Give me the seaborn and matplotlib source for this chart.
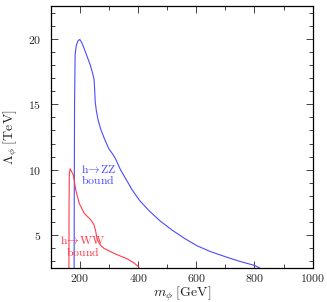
import numpy as np
import pandas as pd
import matplotlib
matplotlib.use('Agg')
import matplotlib.pyplot as plt
from matplotlib.ticker import MultipleLocator, FuncFormatter
import seaborn as sns

# h->ZZ bound (blue)
zz_mass = [179.5, 180.0, 181.0, 183.0, 187.0, 193.0, 199.0, 206.0, 215.0, 225.0, 235.0, 244.0, 248.0,
           250.0, 252.0, 256.0, 262.0, 271.0, 285.0, 299.0, 312.0, 322.0, 339.0, 360.0, 379.0,
           405.0, 436.0, 475.0, 516.0, 560.0, 602.0, 649.0, 700.0, 750.0, 800.0, 818.0]
zz_lam = [2.5, 8.0, 15.0, 18.8, 19.5, 19.85, 19.95, 19.7, 19.2, 18.6, 18.0, 17.3, 16.9,
          16.2, 15.2, 14.5, 13.8, 13.1, 12.3, 11.6, 11.2, 10.84, 10.0, 9.2, 8.47,
          7.65, 6.9, 6.1, 5.4, 4.75, 4.2, 3.75, 3.36, 3.0, 2.7, 2.5]

# h->WW bound (red)
ww_mass = [161.7, 162.0, 163.0, 166.0, 171.0, 177.0, 185.0, 197.0, 214.0, 237.0, 248.0,
           254.0, 259.0, 270.0, 282.0, 300.0, 317.0, 340.0, 362.0, 385.0, 403.0]
ww_lam = [2.5, 7.0, 9.7, 10.08, 9.85, 9.6, 8.47, 7.44, 6.68, 6.17, 5.79,
          5.28, 4.64, 4.25, 4.0, 3.8, 3.62, 3.4, 3.2, 2.9, 2.55]

blue = '#4b4bff'
red = '#ff3b4b'

sns.set_theme(style='ticks')
plt.rcParams['font.family'] = ['DejaVu Serif']
plt.rcParams['mathtext.fontset'] = 'cm'

fig = plt.figure(figsize=(3.27, 3.02), dpi=100)
ax = fig.add_axes([0.156, 0.1126, 0.80, 0.8674])

zz = pd.DataFrame({'m': zz_mass, 'lam': zz_lam})
ww = pd.DataFrame({'m': ww_mass, 'lam': ww_lam})
sns.lineplot(data=zz, x='m', y='lam', sort=False, estimator=None, color=blue, lw=0.8, ax=ax)
sns.lineplot(data=ww, x='m', y='lam', sort=False, estimator=None, color=red, lw=0.8, ax=ax)

ax.set_xlim(100, 1000)
ax.set_ylim(2.5, 22.5)
ax.xaxis.set_major_locator(MultipleLocator(200))
ax.xaxis.set_minor_locator(MultipleLocator(100))
ax.yaxis.set_major_locator(MultipleLocator(5))
ax.yaxis.set_minor_locator(MultipleLocator(1))
fmt = FuncFormatter(lambda v, p: r'$%d$' % v)
ax.xaxis.set_major_formatter(fmt)
ax.yaxis.set_major_formatter(fmt)
ax.tick_params(which='both', direction='in', top=True, right=True, labelsize=8.5, width=0.6)
ax.tick_params(axis='x', pad=3)
ax.tick_params(axis='y', pad=7)
ax.tick_params(which='major', length=5)
ax.tick_params(which='minor', length=3)
for s in ax.spines.values():
    s.set_linewidth(0.9)
    s.set_color('black')

ax.set_xlabel(r'$m_\phi\ [\mathrm{GeV}]$', fontsize=10, labelpad=-0.5)
ax.set_ylabel(r'$\Lambda_\phi\ [\mathrm{TeV}]$', fontsize=10, labelpad=6)

ax.text(262, 9.6, r'$\mathrm{h\!\rightarrow\!ZZ}$' + '\n' + r'$\mathrm{bound}$', color=blue,
        fontsize=8.5, ha='center', va='center', linespacing=0.85)
ax.text(209, 4.13, r'$\mathrm{h\!\rightarrow\!WW}$' + '\n' + r'$\mathrm{bound}$', color=red,
        fontsize=8.5, ha='center', va='center', linespacing=0.85)

fig.savefig('out.png', dpi=100)
